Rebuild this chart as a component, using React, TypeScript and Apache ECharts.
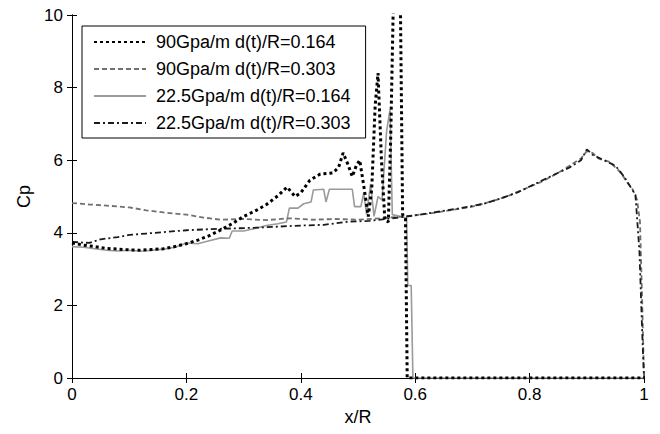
import React, { useEffect, useRef } from "react";
import * as echarts from "echarts";

const FONT = "'Liberation Sans', Arial, Helvetica, sans-serif";

const seriesNames = [
  "90Gpa/m d(t)/R=0.164",
  "90Gpa/m d(t)/R=0.303",
  "22.5Gpa/m d(t)/R=0.164",
  "22.5Gpa/m d(t)/R=0.303",
];

// 90Gpa/m, d(t)/R = 0.164 (thick dotted)
const cp90_164: [number, number][] = [
  [0, 3.72], [0.02, 3.66], [0.04, 3.62], [0.06, 3.57], [0.08, 3.55], [0.1, 3.53],
  [0.12, 3.52], [0.14, 3.54], [0.16, 3.56], [0.18, 3.62], [0.2, 3.7], [0.22, 3.8],
  [0.24, 3.92], [0.26, 4.08], [0.28, 4.25], [0.3, 4.45], [0.32, 4.6], [0.34, 4.78],
  [0.36, 5.02], [0.376, 5.26], [0.39, 5.0], [0.4, 5.1], [0.416, 5.45], [0.434, 5.62],
  [0.456, 5.65], [0.466, 5.8], [0.474, 6.2], [0.482, 5.9], [0.49, 5.55], [0.497, 5.85],
  [0.503, 6.0], [0.51, 5.3], [0.518, 4.45], [0.524, 5.2], [0.53, 7.5], [0.535, 8.4],
  [0.541, 6.0], [0.547, 4.35], [0.553, 4.3], [0.557, 6.5], [0.562, 10.5], [0.574, 10.5],
  [0.578, 4.5], [0.583, 4.4], [0.586, 0], [0.65, 0], [1, 0],
];

// 90Gpa/m, d(t)/R = 0.303 (grey dashed)
const cp90_303: [number, number][] = [
  [0, 4.82], [0.03, 4.78], [0.06, 4.75], [0.1, 4.7], [0.13, 4.62], [0.16, 4.56],
  [0.2, 4.5], [0.23, 4.42], [0.26, 4.36], [0.3, 4.38], [0.34, 4.35], [0.38, 4.4],
  [0.42, 4.36], [0.46, 4.38], [0.5, 4.36], [0.54, 4.4], [0.58, 4.45], [0.62, 4.52],
  [0.66, 4.62], [0.7, 4.72], [0.73, 4.85], [0.76, 5.0], [0.79, 5.2], [0.82, 5.4],
  [0.85, 5.65], [0.87, 5.85], [0.89, 6.05], [0.9, 6.25], [0.91, 6.2], [0.92, 6.05],
  [0.94, 5.95], [0.95, 5.8], [0.96, 5.65], [0.97, 5.4], [0.98, 5.2], [0.988, 4.9],
  [0.993, 4.3], [0.997, 2.0], [1, 0],
];

// 22.5Gpa/m, d(t)/R = 0.164 (grey solid)
const cp22_164: [number, number][] = [
  [0, 3.62], [0.02, 3.6], [0.04, 3.56], [0.06, 3.52], [0.08, 3.5], [0.1, 3.52],
  [0.12, 3.49], [0.14, 3.52], [0.16, 3.55], [0.18, 3.6], [0.2, 3.72], [0.22, 3.7],
  [0.24, 3.78], [0.26, 3.86], [0.275, 3.85], [0.28, 4.05], [0.3, 4.05], [0.32, 4.12],
  [0.34, 4.2], [0.36, 4.25], [0.375, 4.3], [0.38, 4.68], [0.395, 4.68], [0.405, 4.8],
  [0.418, 4.85], [0.422, 5.18], [0.44, 5.2], [0.444, 4.85], [0.45, 5.2], [0.49, 5.2],
  [0.494, 4.72], [0.505, 4.72], [0.51, 5.1], [0.515, 4.5], [0.522, 5.35], [0.528, 4.45],
  [0.535, 5.0], [0.542, 4.9], [0.55, 6.8], [0.556, 7.4], [0.56, 4.5], [0.575, 4.45],
  [0.585, 4.4], [0.587, 2.55], [0.593, 2.55], [0.596, 0], [1, 0],
];

// 22.5Gpa/m, d(t)/R = 0.303 (dash-dot)
const cp22_303: [number, number][] = [
  [0, 3.75], [0.03, 3.72], [0.05, 3.82], [0.08, 3.88], [0.1, 3.94], [0.13, 3.98],
  [0.16, 4.02], [0.2, 4.07], [0.24, 4.1], [0.28, 4.12], [0.32, 4.14], [0.36, 4.17],
  [0.4, 4.2], [0.44, 4.22], [0.48, 4.3], [0.52, 4.33], [0.56, 4.4], [0.6, 4.48],
  [0.64, 4.58], [0.68, 4.68], [0.72, 4.8], [0.75, 4.95], [0.78, 5.12], [0.81, 5.35],
  [0.84, 5.58], [0.87, 5.8], [0.89, 6.0], [0.9, 6.3], [0.91, 6.15], [0.93, 6.0],
  [0.95, 5.85], [0.965, 5.55], [0.975, 5.3], [0.985, 5.05], [0.992, 3.5], [0.997, 1.2],
  [1, 0],
];

export default function App() {
  const ref = useRef<HTMLDivElement>(null);
  useEffect(() => {
    if (!ref.current) return;
    const chart = echarts.init(ref.current, undefined, { renderer: "svg" });
    const axisLine = { show: true, lineStyle: { color: "#000", width: 1 } };
    const tick = { show: true, inside: true, length: 5, lineStyle: { color: "#000" } };
    const label = { color: "#000", fontSize: 17, fontFamily: FONT };
    chart.setOption({
      animation: false,
      backgroundColor: "#fff",
      grid: { left: 72, right: 16, top: 15, bottom: 56 },
      legend: {
        data: seriesNames,
        orient: "vertical",
        left: 82,
        top: 26,
        width: 283,
        padding: [7, 15, 6, 11],
        itemGap: 9,
        itemWidth: 52,
        itemHeight: 14,
        backgroundColor: "#fff",
        borderColor: "#000",
        borderWidth: 1,
        borderRadius: 0,
        itemStyle: { opacity: 0 },
        textStyle: { color: "#000", fontSize: 18, fontFamily: FONT, padding: [0, 0, 0, 5] },
      },
      xAxis: [
        {
          type: "value", min: 0, max: 1, interval: 0.2,
          axisLine, axisTick: tick, splitLine: { show: false },
          axisLabel: { ...label, margin: 8 },
          name: "x/R", nameLocation: "middle", nameGap: 30,
          nameTextStyle: { color: "#000", fontSize: 18, fontFamily: FONT },
        },
        {
          type: "value", min: 0, max: 1, interval: 0.2, position: "top",
          axisLine, axisTick: tick, splitLine: { show: false }, axisLabel: { show: false },
        },
      ],
      yAxis: [
        {
          type: "value", min: 0, max: 10, interval: 2,
          axisLine, axisTick: tick, splitLine: { show: false },
          axisLabel: { ...label, margin: 9 },
          name: "Cp", nameLocation: "middle", nameGap: 39,
          nameTextStyle: { color: "#000", fontSize: 18, fontFamily: FONT },
        },
        {
          type: "value", min: 0, max: 10, interval: 2, position: "right",
          axisLine, axisTick: tick, splitLine: { show: false }, axisLabel: { show: false },
        },
      ],
      series: [
        {
          name: seriesNames[2], type: "line", data: cp22_164, symbol: "none",
          lineStyle: { color: "#9a9a9a", width: 1.6, type: "solid" },
          itemStyle: { color: "#9a9a9a", opacity: 0 },
        },
        {
          name: seriesNames[1], type: "line", data: cp90_303, symbol: "none",
          lineStyle: { color: "#707070", width: 1.8, type: [5, 3] },
          itemStyle: { color: "#707070", opacity: 0 },
        },
        {
          name: seriesNames[3], type: "line", data: cp22_303, symbol: "none",
          lineStyle: { color: "#1a1a1a", width: 1.8, type: [6, 3, 2, 3] },
          itemStyle: { color: "#1a1a1a", opacity: 0 },
        },
        {
          name: seriesNames[0], type: "line", data: cp90_164, symbol: "none",
          lineStyle: { color: "#000", width: 3, type: [3, 3] },
          itemStyle: { color: "#000", opacity: 0 },
        },
      ],
    });
    return () => chart.dispose();
  }, []);
  return (
    <div
      ref={ref}
      style={{ position: "fixed", left: 0, top: 0, width: 660, height: 434, background: "#fff" }}
    />
  );
}
